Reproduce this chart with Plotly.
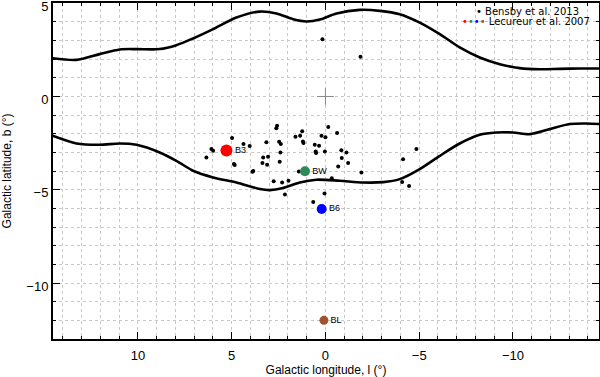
import plotly.graph_objects as go

# Upper and lower boundary curves (l, b)
upper_l = [14.55, 13.28, 12.04, 10.97, 10.08, 8.84, 7.95, 7.06, 5.99, 4.75, 3.5, 2.61, 1.72, 1.01, 0.3,
           -0.59, -1.83, -2.9, -3.96, -5.03, -6.1, -7.16, -8.23, -9.3, -10.36, -11.42, -12.5, -13.6, -14.6]
upper_b = [2.05, 1.96, 2.27, 2.52, 2.54, 2.54, 2.75, 3.11, 3.61, 4.23, 4.55, 4.45, 4.14, 4.02, 4.12,
           4.45, 4.64, 4.59, 4.41, 3.96, 3.34, 2.63, 2.09, 1.73, 1.52, 1.46, 1.48, 1.5, 1.5]

lower_l = [14.55, 13.28, 12.04, 10.97, 10.08, 8.84, 7.95, 7.06, 5.99, 4.75, 3.5, 2.97, 2.26, 1.37, 0.48,
           -0.76, -2.0, -3.08, -3.96, -5.03, -6.1, -7.16, -8.23, -9.12, -10.0, -10.9, -11.96, -13.03, -13.9, -14.6]
lower_b = [-2.11, -2.52, -2.59, -2.52, -2.59, -3.0, -3.45, -3.98, -4.34, -4.61, -4.96, -5.02, -4.91, -4.61, -4.46,
           -4.52, -4.61, -4.59, -4.43, -3.89, -3.18, -2.52, -2.05, -1.93, -1.93, -2.02, -1.75, -1.48, -1.45, -1.48]

# Bensby et al. 2013 fields
bensby_l = [0.16, -1.87, 2.58, 2.62, 4.98, 4.37, 4.04, 6.08, 5.99, 6.35, 4.84, 4.88, 3.89, 3.85, 3.15,
            2.47, 2.38, 3.32, 3.06, 3.36, 3.11, 2.44, 2.40, 1.6, 1.35, 1.24, 1.17, 1.2, 0.57, 0.34,
            0.52, 0.5, 0.03, 0.21, 0.0, -0.15, 1.42, 2.76, 2.31, 1.97, 2.16, 0.05, 0.65, -0.62, -0.85,
            -1.12, -0.87, -1.21, -0.68, -1.92, -0.34, -4.85, -4.14, -4.09, -4.46]
bensby_b = [3.07, 2.13, -1.57, -1.7, -2.23, -2.55, -2.66, -2.82, -2.91, -3.27, -3.68, -3.62, -4.04, -4.0, -2.46,
            -2.43, -2.55, -3.27, -3.23, -3.57, -3.66, -3.5, -3.0, -2.16, -2.11, -1.86, -2.5, -2.42, -2.59, -2.64,
            -2.95, -3.03, -2.95, -2.11, -2.18, -1.64, -4.02, -4.54, -4.61, -4.52, -5.25, -5.2, -5.65, -1.96, -2.88,
            -3.0, -3.3, -3.57, -3.75, -4.07, -4.38, -2.82, -3.36, -4.59, -4.8]

# Lecureur et al. 2007 fields
lec_names = ["B3", "BW", "B6", "BL"]
lec_l = [5.28, 1.09, 0.2, 0.08]
lec_b = [-2.9, -4.01, -6.03, -12.0]
lec_colors = ["#ff0000", "#2e8b57", "#0000ff", "#a0522d"]
lec_sizes = [12, 10, 10, 9]

FONT = "Liberation Sans, Arial, sans-serif"

fig = go.Figure()

for xs, ys in ((upper_l, upper_b), (lower_l, lower_b)):
    fig.add_trace(go.Scatter(x=xs, y=ys, mode="lines",
                             line=dict(color="black", width=2.6, shape="spline", smoothing=0.8),
                             showlegend=False, hoverinfo="skip"))

# centre cross
fig.add_trace(go.Scatter(x=[0], y=[0], mode="markers",
                         marker=dict(symbol="cross-thin", size=12, line=dict(color="#888888", width=1)),
                         showlegend=False, hoverinfo="skip"))

fig.add_trace(go.Scatter(x=bensby_l, y=bensby_b, mode="markers",
                         marker=dict(color="black", size=4, opacity=1),
                         showlegend=False))

fig.add_trace(go.Scatter(x=lec_l, y=lec_b, mode="markers+text",
                         marker=dict(color=lec_colors, size=lec_sizes, opacity=1, line=dict(width=0)),
                         text=lec_names, textposition="middle right",
                         textfont=dict(family=FONT, size=9, color="black"),
                         showlegend=False))

grid_color = "#c8c8c8"
axis_common = dict(
    showline=True, linecolor="black", linewidth=2, mirror="allticks",
    ticks="inside", ticklen=7, tickwidth=1, tickcolor="black",
    showgrid=True, gridcolor=grid_color, griddash="dot", gridwidth=1,
    zeroline=False, automargin=False, ticklabeloverflow="allow",
    tickfont=dict(family=FONT, size=13, color="black"),
)

fig.update_xaxes(
    range=[14.53, -14.59], dtick=5, tick0=0, ticklabelstandoff=3,
    title=dict(text="Galactic longitude, l (°)",
               font=dict(family=FONT, size=12, color="black")),
    minor=dict(dtick=1, ticks="inside", ticklen=3, tickcolor="black",
               showgrid=True, gridcolor=grid_color, griddash="dot"),
    **axis_common)
fig.update_yaxes(
    range=[-13, 5.01], dtick=5, tick0=0, ticklabelshift=3,
    title=dict(text="Galactic latitude, b (°)",
               font=dict(family=FONT, size=12, color="black")),
    minor=dict(dtick=1, ticks="inside", ticklen=3, tickcolor="black",
               showgrid=True, gridcolor=grid_color, griddash="dot"),
    **axis_common)

# legend as annotations
fig.add_annotation(xref="paper", yref="paper", x=0.771, y=0.975, xanchor="left", yanchor="middle",
                   text="• Bensby et al. 2013", showarrow=False,
                   font=dict(family="DejaVu Sans, sans-serif", size=10, color="black"))
fig.add_annotation(xref="paper", yref="paper", x=0.745, y=0.945, xanchor="left", yanchor="middle",
                   text=("<span style='color:#ff0000'>•</span><span style='color:#2e8b57'>•</span>"
                         "<span style='color:#0000ff'>•</span><span style='color:#a0522d'>•</span>"
                         " Lecureur et al. 2007"),
                   showarrow=False,
                   font=dict(family="DejaVu Sans, sans-serif", size=10, color="black"))

fig.update_layout(
    width=600, height=377,
    margin=dict(l=53, r=1, t=3, b=38),
    paper_bgcolor="white", plot_bgcolor="white",
    showlegend=False,
)

fig.write_html("out.html", config={"displayModeBar": False},
               post_script="document.body.style.margin='0px';document.body.style.overflow='hidden';")
